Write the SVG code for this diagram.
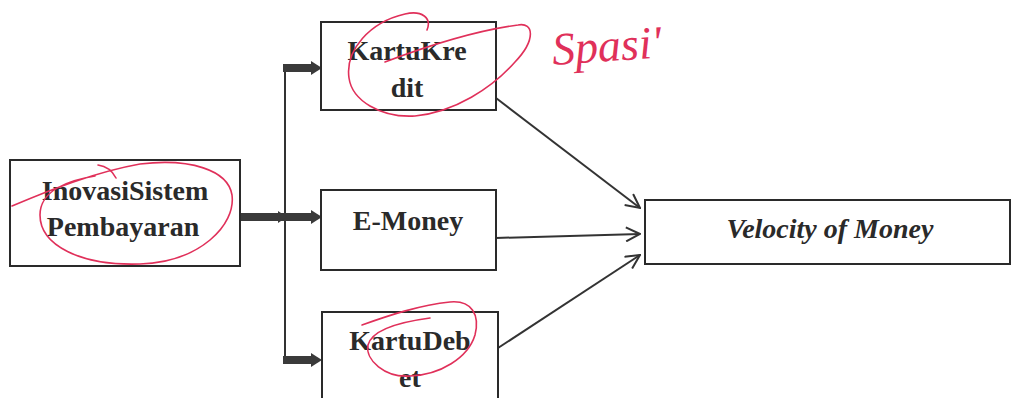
<svg xmlns="http://www.w3.org/2000/svg" width="1016" height="398" viewBox="0 0 1016 398">
<style>
.box{fill:#fff;stroke:#2a2a2a;stroke-width:2}
.t{font-family:"Liberation Serif","Times New Roman",serif;font-weight:bold;font-size:28px;fill:#2a2a2a;text-anchor:middle}
.ti{font-style:italic}
.thick{stroke:#3a3a3a;stroke-width:8}
.thin{stroke:#333;stroke-width:2;fill:none}
.red{fill:none;stroke:#e0305a;stroke-width:1.6;stroke-linecap:round}
</style>
<defs>
<marker id="open" markerWidth="16" markerHeight="16" refX="15" refY="8" orient="auto" markerUnits="userSpaceOnUse">
<path d="M1,1 L15,8 L1,15" fill="none" stroke="#333" stroke-width="2"/>
</marker>
</defs>
<rect width="1016" height="398" fill="#fff"/>
<g id="connectors">
<line class="thin" x1="285" y1="66" x2="285" y2="362"/>
<line class="thick" x1="240" y1="217" x2="312" y2="217"/>
<polygon points="278,211 287,217 278,223" fill="#3a3a3a"/>
<polygon points="311,210 322,217 311,224" fill="#3a3a3a"/>
<line class="thick" x1="283" y1="68" x2="312" y2="68"/>
<polygon points="311,61 322,68 311,75" fill="#3a3a3a"/>
<line class="thick" x1="283" y1="360" x2="312" y2="360"/>
<polygon points="311,353 322,360 311,367" fill="#3a3a3a"/>
<line class="thin" x1="496" y1="98" x2="640" y2="208" marker-end="url(#open)"/>
<line class="thin" x1="496" y1="238" x2="640" y2="234" marker-end="url(#open)"/>
<line class="thin" x1="498" y1="348" x2="640" y2="255" marker-end="url(#open)"/>
</g>
<g id="inovasi">
<rect class="box" x="10" y="160" width="230" height="106"/>
<text class="t" x="125" y="200">InovasiSistem</text>
<text class="t" x="123" y="236">Pembayaran</text>
</g>
<g id="kredit">
<rect class="box" x="321" y="22" width="175" height="88"/>
<text class="t" x="407" y="60">KartuKre</text>
<text class="t" x="407" y="97">dit</text>
</g>
<g id="emoney">
<rect class="box" x="321" y="190" width="175" height="80"/>
<text class="t" x="408" y="230">E-Money</text>
</g>
<g id="debet">
<rect class="box" x="322" y="312" width="176" height="100"/>
<text class="t" x="410" y="350">KartuDeb</text>
<text class="t" x="410" y="387">et</text>
</g>
<g id="velocity">
<rect class="box" x="645" y="200" width="365" height="64"/>
<text class="t ti" x="830" y="238">Velocity of Money</text>
</g>
<g id="annotations">
<path class="red" d="M12,206 C50,190 95,172 140,164 C190,158 228,170 232,195 C236,225 200,262 140,264 C80,266 40,245 40,215 C40,190 70,180 95,176"/>
<path class="red" d="M98,165 C105,166 112,170 116,178"/>
<path class="red" d="M427,30 C432,18 422,10 405,14 C370,22 345,50 349,78 C352,100 380,118 415,116 C455,112 492,88 515,62 C536,40 534,22 518,25 C480,30 430,45 385,62"/>
<path class="red" d="M362,325 C390,315 420,305 450,302 C472,300 480,315 475,335 C468,358 440,375 410,376 C385,378 365,360 368,345 C372,330 400,322 430,318"/>
<text x="552" y="62" font-family="Liberation Serif, serif" font-style="italic" font-size="46" fill="#e0305a" transform="rotate(-4 595 50)">Spasi'</text>
</g>
</svg>
